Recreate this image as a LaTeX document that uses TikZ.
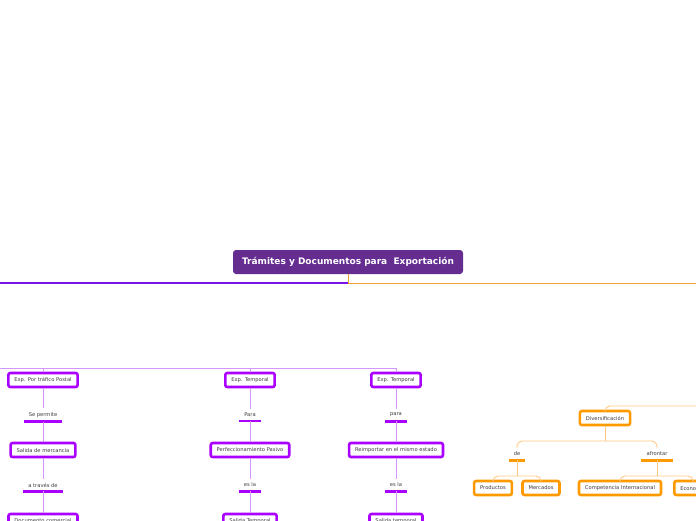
\documentclass[tikz,border=0pt]{standalone}
\usepackage{fontspec}
\setmainfont{DejaVu Sans}
\usetikzlibrary{positioning}
\definecolor{rootpurple}{RGB}{102,45,145}
\definecolor{boxpurple}{RGB}{170,0,255}
\definecolor{linkpurple}{RGB}{214,150,255}
\definecolor{mainpurple}{RGB}{120,20,230}
\definecolor{boxorange}{RGB}{255,153,0}
\definecolor{linkorange}{RGB}{255,200,130}
\definecolor{mainorange}{RGB}{240,160,50}
\definecolor{txtgray}{RGB}{60,60,60}

\begin{document}
\begin{tikzpicture}[x=1pt, y=-1pt,
  rootbox/.style={rounded corners=3pt, fill=rootpurple, text=white,
    font=\fontsize{9}{10}\selectfont\bfseries,
    minimum width=230pt, minimum height=24pt, inner sep=0pt},
  pbox/.style={draw=boxpurple, line width=2.6pt, rounded corners=2pt, fill=white,
    text=txtgray, font=\fontsize{5.2}{6}\selectfont,
    minimum height=14pt, inner xsep=6pt, inner ysep=0pt},
  obox/.style={pbox, draw=boxorange},
  lbl/.style={text=txtgray, font=\fontsize{5.2}{6}\selectfont, inner xsep=5pt, inner ysep=4pt},
  pbar/.style={boxpurple, line width=2.6pt},
  obar/.style={boxorange, line width=2.6pt},
  plink/.style={linkpurple, line width=0.8pt},
  olink/.style={linkorange, line width=0.9pt, rounded corners=5pt}]
\useasboundingbox (0,0) rectangle (696,520);
\clip (0,0) rectangle (696,520);

% central topic
\node[rootbox] (root) at (348,262) {Tr\'amites y Documentos para \ Exportaci\'on};
\coordinate (j0) at (348,283);
\coordinate (mleft) at (0,283);
\coordinate (mright) at (696,283);
\draw[mainorange, line width=1pt] (root.south) -- (j0);
\draw[mainpurple, line width=1.4pt] (j0) -- (mleft);
\draw[mainorange, line width=1pt] (j0) -- (mright);

% purple branch: three columns
\coordinate (pl) at (0,368);
\foreach \n/\x/\top/\la/\mid/\lb/\bot in {
   1/43/{Exp. Por tr\'afico Postal}/{Se permite}/{Salida de mercanc\'ia}/{a trav\'es de}/{Documento comercial},
   2/250/{Exp. Temporal}/{Para}/{Perfeccionamiento Pasivo}/{es la}/{Salida Temporal},
   3/396/{Exp. Temporal}/{para}/{Reimportar en el mismo estado}/{es la}/{Salida temporal}}{
  \node[pbox] (t\n) at (\x,380) {\top};
  \node[lbl] (la\n) at (\x,415) {\la};
  \node[pbox] (m\n) at (\x,450) {\mid};
  \node[lbl] (lb\n) at (\x,485) {\lb};
  \node[pbox] (b\n) at (\x,521) {\bot};
  \draw[pbar] (la\n.south west) -- (la\n.south east);
  \draw[pbar] (lb\n.south west) -- (lb\n.south east);
  \draw[plink] (t\n.south) -- (la\n.north);
  \draw[plink] (la\n.south) -- (m\n.north);
  \draw[plink] (m\n.south) -- (lb\n.north);
  \draw[plink] (lb\n.south) -- (b\n.north);
  \draw[plink] (t\n.north) -- (t\n.north |- pl);
}
\draw[plink] (pl) -- (t3.north |- pl);

% orange branch
\node[obox] (div) at (605,418) {Diversificaci\'on};
\node[lbl] (de) at (517,454) {de};
\node[lbl] (afr) at (657,454) {afrontar};
\node[obox] (prod) at (493,488) {Productos};
\node[obox] (merc) at (541,488) {Mercados};
\node[obox] (comp) at (620,488) {Competencia Internacional};
\node[obox, anchor=west] (eco) at (673,488) {Econom\'ia};
\draw[obar] (de.south west) -- (de.south east);
\draw[obar] (afr.south west) -- (afr.south east);

\coordinate (otop) at (720,406);
\coordinate (j1) at (605,441);
\coordinate (j2) at (517,476);
\coordinate (j3) at (657,476);
\draw[olink] (div.north) |- (otop);
\draw[olink] (div.south) -- (j1);
\draw[olink] (j1) -| (de.north);
\draw[olink] (j1) -| (afr.north);
\draw[olink] (de.south) -- (j2);
\draw[olink] (j2) -| (prod.north);
\draw[olink] (j2) -| (merc.north);
\draw[olink] (afr.south) -- (j3);
\draw[olink] (j3) -| (comp.north);
\draw[olink] (j3) -| (eco.north);
\end{tikzpicture}
\end{document}
